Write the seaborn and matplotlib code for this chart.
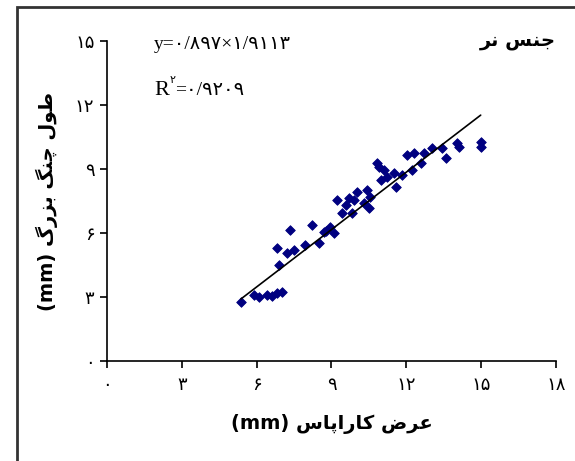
import matplotlib
matplotlib.use('Agg')
import matplotlib.pyplot as plt
import matplotlib.patches as patches
import seaborn as sns
import pandas as pd
import numpy as np

# عرض کاراپاس و طول چنگ بزرگ (جنس نر)
carapace_width = [5.37, 5.88, 6.41, 6.81, 7.01, 6.1, 6.6, 6.88, 6.81, 7.21, 7.48, 7.35,
                  7.95, 8.22, 8.49, 8.69, 8.96, 9.09, 9.22, 9.42, 9.69, 9.89, 9.82,
                  10.02, 10.43, 10.49, 10.56, 10.83, 10.9, 11.1, 11.23, 11.5, 11.57,
                  11.83, 12.04, 12.3, 12.23, 12.57, 12.71, 13.04, 13.44, 13.57,
                  14.04, 14.1, 14.98, 14.98, 8.8, 9.6, 10.3, 11.0]
claw_length = [2.78, 3.09, 3.09, 3.17, 3.25, 3.0, 3.05, 4.5, 5.28, 5.05, 5.2, 6.14,
               5.44, 6.38, 5.52, 6.06, 6.3, 5.99, 7.55, 6.92, 7.62, 7.55, 6.92,
               7.94, 8.02, 7.16, 7.7, 9.26, 9.1, 8.95, 8.64, 8.8, 8.17,
               8.72, 9.66, 9.74, 8.95, 9.26, 9.74, 9.97, 9.97, 9.5,
               10.2, 10.05, 10.28, 10.05, 6.1, 7.3, 7.4, 8.5]
slope = 0.897
intercept = -1.9113
x_ticks = [0, 3, 6, 9, 12, 15, 18]
y_ticks = [0, 3, 6, 9, 12, 15]

# shaping دستی برای متن فارسی (matplotlib اتصال حروف را انجام نمی‌دهد)
FORMS = {
    'ا': (0xFE8D, 0xFE8E, None, None),
    'ب': (0xFE8F, 0xFE90, 0xFE91, 0xFE92),
    'پ': (0xFB56, 0xFB57, 0xFB58, 0xFB59),
    'ج': (0xFE9D, 0xFE9E, 0xFE9F, 0xFEA0),
    'چ': (0xFB7A, 0xFB7B, 0xFB7C, 0xFB7D),
    'ر': (0xFEAD, 0xFEAE, None, None),
    'ز': (0xFEAF, 0xFEB0, None, None),
    'س': (0xFEB1, 0xFEB2, 0xFEB3, 0xFEB4),
    'ض': (0xFEBD, 0xFEBE, 0xFEBF, 0xFEC0),
    'ط': (0xFEC1, 0xFEC2, 0xFEC3, 0xFEC4),
    'ع': (0xFEC9, 0xFECA, 0xFECB, 0xFECC),
    'ک': (0xFB8E, 0xFB8F, 0xFB90, 0xFB91),
    'گ': (0xFB92, 0xFB93, 0xFB94, 0xFB95),
    'ل': (0xFEDD, 0xFEDE, 0xFEDF, 0xFEE0),
    'ن': (0xFEE5, 0xFEE6, 0xFEE7, 0xFEE8),
    'و': (0xFEED, 0xFEEE, None, None),
}


def shape(text):
    out = []
    n = len(text)
    for i, ch in enumerate(text):
        if ch not in FORMS:
            out.append(ch)
            continue
        iso, fin, ini, med = FORMS[ch]
        prev = text[i - 1] if i > 0 else ''
        nxt = text[i + 1] if i < n - 1 else ''
        join_prev = prev in FORMS and FORMS[prev][2] is not None
        join_next = nxt in FORMS and ini is not None
        if join_prev and join_next:
            out.append(chr(med))
        elif join_prev:
            out.append(chr(fin))
        elif join_next:
            out.append(chr(ini))
        else:
            out.append(chr(iso))
    return ''.join(reversed(out))


def fa(n):
    return str(n).translate(str.maketrans('0123456789', '۰۱۲۳۴۵۶۷۸۹'))


df = pd.DataFrame({'x': carapace_width, 'y': claw_length})

sns.set_style('ticks')
plt.rcParams['font.family'] = ['DejaVu Sans']
plt.rcParams['text.color'] = 'black'
plt.rcParams['axes.labelcolor'] = 'black'

fig = plt.figure(figsize=(5.75, 4.61), dpi=100)
ax = fig.add_axes([0.186, 0.217, 0.781, 0.694])

sns.scatterplot(data=df, x='x', y='y', marker='D', s=24, color='#000080',
                edgecolor='#000080', linewidth=0.6, ax=ax, zorder=3)
line_x = np.array([min(carapace_width), max(carapace_width)])
sns.lineplot(x=line_x, y=slope * line_x + intercept, color='black', lw=1.2, ax=ax, zorder=4)

ax.set_xlim(0, 18)
ax.set_ylim(0, 15)
ax.set_xticks(x_ticks)
ax.set_yticks(y_ticks)
ax.set_xticklabels([fa(t) for t in x_ticks], fontsize=13)
ax.set_yticklabels([fa(t) for t in y_ticks], fontsize=13)
ax.tick_params(direction='out', length=5, width=1.2, colors='black')
ax.tick_params(axis='x', pad=6)
ax.tick_params(axis='y', pad=4)
sns.despine(ax=ax)
for s in ['left', 'bottom']:
    ax.spines[s].set_color('black')
    ax.spines[s].set_linewidth(1.2)

ax.set_xlabel('(mm) ' + shape('عرض کاراپاس'), fontsize=14, fontweight='bold', labelpad=14)
ax.set_ylabel('(mm) ' + shape('طول چنگ بزرگ'), fontsize=14, fontweight='bold', labelpad=12)

ax.text(1.0, 1.03, shape('جنس نر'), transform=ax.transAxes, ha='right', va='top',
        fontsize=14, fontweight='bold')

serif = ['Liberation Serif', 'DejaVu Sans']
ax.text(0.105, 1.015, 'y=' + '۰/۸۹۷×۱/۹۱۱۳', transform=ax.transAxes, ha='left', va='top',
        fontsize=14, family=serif)
ax.annotate('R', xy=(0.105, 0.83), xycoords='axes fraction', ha='left', va='baseline',
            fontsize=16, family=serif)
ax.annotate('۲', xy=(0.105, 0.83), xycoords='axes fraction', xytext=(11, 9),
            textcoords='offset points', ha='left', va='baseline', fontsize=8)
ax.annotate('=۰/۹۲۰۹', xy=(0.105, 0.83), xycoords='axes fraction', xytext=(15, 0),
            textcoords='offset points', ha='left', va='baseline', fontsize=14, family=serif)

# قاب دور شکل
fig.add_artist(patches.Rectangle((17 / 575, -0.1), 1.2, 1 - 7 / 461 + 0.1,
                                 transform=fig.transFigure, fill=False,
                                 edgecolor='#333333', linewidth=2))

fig.savefig('out.png', dpi=100)
